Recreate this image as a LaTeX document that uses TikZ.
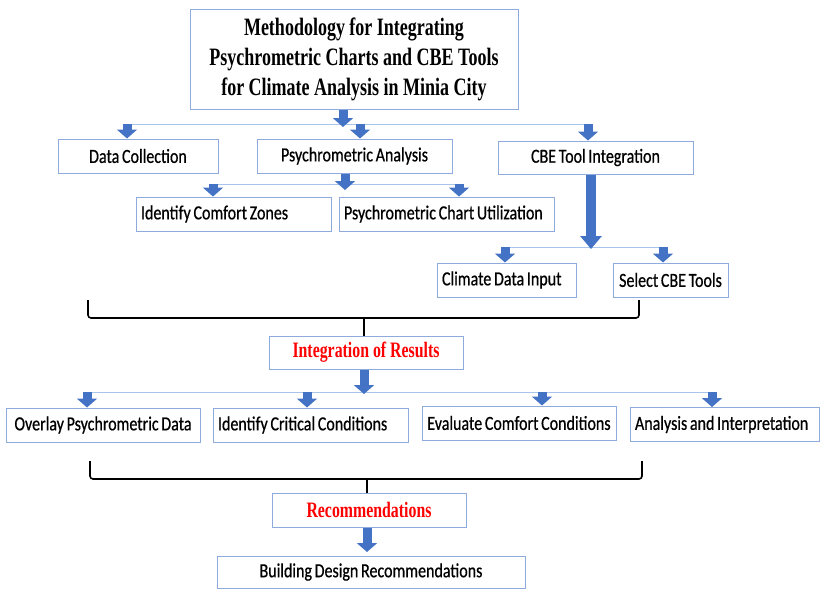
\documentclass[tikz,border=0pt]{standalone}
\usepackage{fontspec}
\setmainfont{Carlito}[FakeStretch=0.8,WordSpace=0.75,FakeBold=0.6]
\newfontfamily\headfont{Liberation Serif}[FakeStretch=0.72]
\usetikzlibrary{arrows.meta}
\definecolor{boxblue}{HTML}{8FAADC}
\definecolor{arrowblue}{HTML}{4472C4}
\definecolor{busblue}{HTML}{A9C4EB}
\begin{document}
\begin{tikzpicture}[x=1pt,y=-1pt,
    box/.style={rectangle,draw=boxblue,line width=1pt,fill=white,minimum height=34pt,inner sep=5pt,text=black,font=\fontsize{20}{24}\selectfont},
    lbox/.style={box,align=flush left,text width=#1},
    redbox/.style={box,text=red,font=\headfont\bfseries\fontsize{22}{26}\selectfont},
    bus/.style={draw=busblue,line width=1pt},
    fat/.style={draw=arrowblue,line width=9pt,-{Triangle[width=20pt,length=9pt]}},
    brace/.style={draw=black,line width=1.6pt,rounded corners=3pt}]
    \useasboundingbox (0,0) rectangle (820,589);
    % boxes
    \node[box,minimum width=328pt,minimum height=100pt,align=center,font=\headfont\bfseries\fontsize{25}{30}\selectfont] (title) at (354,59)
      {Methodology for Integrating\\Psychrometric Charts and CBE Tools\\for Climate Analysis in Minia City};
    \node[box,minimum width=160pt] (dc) at (138,156) {Data Collection};
    \node[box,minimum width=195pt] (pa) at (354.5,156) {Psychrometric Analysis};
    \node[box,minimum width=195pt,minimum height=33pt] (cbe) at (595.5,157.5) {CBE Tool Integration};
    \node[lbox=185pt] (icz) at (233.5,214) {Identify Comfort Zones};
    \node[lbox=205pt] (pcu) at (446.5,214) {Psychrometric Chart Utilization};
    \node[lbox=129pt] (cdi) at (506.5,280) {Climate Data Input};
    \node[box,minimum width=115pt] (sct) at (670.5,280) {Select CBE Tools};
    \node[redbox,minimum width=194pt,minimum height=33pt] (ior) at (366,352.5) {Integration of Results};
    \node[box,minimum width=194pt] (ovl) at (103,425) {Overlay Psychrometric Data};
    \node[lbox=185pt] (icc) at (310.5,425) {Identify Critical Conditions};
    \node[box,minimum width=194pt] (ecc) at (519,423) {Evaluate Comfort Conditions};
    \node[lbox=179pt] (ain) at (724.5,424.5) {Analysis and Interpretation};
    \node[redbox,minimum width=194pt] (rec) at (369,510) {Recommendations};
    \node[box,minimum width=308pt,minimum height=32pt] (bdr) at (371,572) {Building Design Recommendations};
    % first level
    \coordinate (t0) at (343,127);
    \coordinate (a1) at (127,124);
    \coordinate (a2) at (360,124);
    \coordinate (a3) at (588,124);
    \draw[bus] (a1) -- (a3);
    \draw[fat] (t0 |- title.south) -- (t0);
    \draw[fat] (a1) -- (a1 |- dc.north);
    \draw[fat] (a2) -- (a2 |- pa.north);
    \draw[fat] (a3) -- (a3 |- cbe.north);
    % psychrometric branch
    \coordinate (p0) at (345,190);
    \coordinate (b1) at (213,184);
    \coordinate (b2) at (459,184);
    \draw[bus] (b1) -- (b2);
    \draw[fat] (p0 |- pa.south) -- (p0);
    \draw[fat] (b1) -- (b1 |- icz.north);
    \draw[fat] (b2) -- (b2 |- pcu.north);
    % cbe branch
    \coordinate (k0) at (591,249);
    \coordinate (c1) at (505,247);
    \coordinate (c2) at (663,247);
    \draw[bus] (c1) -- (c2);
    \draw[fat,line width=10pt,-{Triangle[width=21pt,length=13pt]}] (k0 |- cbe.south) -- (k0);
    \draw[fat] (c1) -- (c1 |- cdi.north);
    \draw[fat] (c2) -- (c2 |- sct.north);
    % braces
    \coordinate (m1) at (364,318);
    \draw[brace] (88,300) -- (88,318) -- (639,318) -- (639,300);
    \draw[brace] (m1) -- (m1 |- ior.north);
    % results branch
    \coordinate (i0) at (364,394);
    \coordinate (d1) at (87,392);
    \coordinate (d2) at (307,392);
    \coordinate (d3) at (542,392);
    \coordinate (d4) at (712,392);
    \draw[bus] (d1) -- (d4);
    \draw[fat] (i0 |- ior.south) -- (i0);
    \draw[fat] (d1) -- (d1 |- ovl.north);
    \draw[fat] (d2) -- (d2 |- icc.north);
    \draw[fat] (d3) -- (d3 |- ecc.north);
    \draw[fat] (d4) -- (d4 |- ain.north);
    \coordinate (m2) at (367,479);
    \draw[brace] (90,461) -- (90,479) -- (642,479) -- (642,461);
    \draw[brace] (m2) -- (m2 |- rec.north);
    \coordinate (r0) at (367,552);
    \draw[fat] (r0 |- rec.south) -- (r0);
\end{tikzpicture}
\end{document}
